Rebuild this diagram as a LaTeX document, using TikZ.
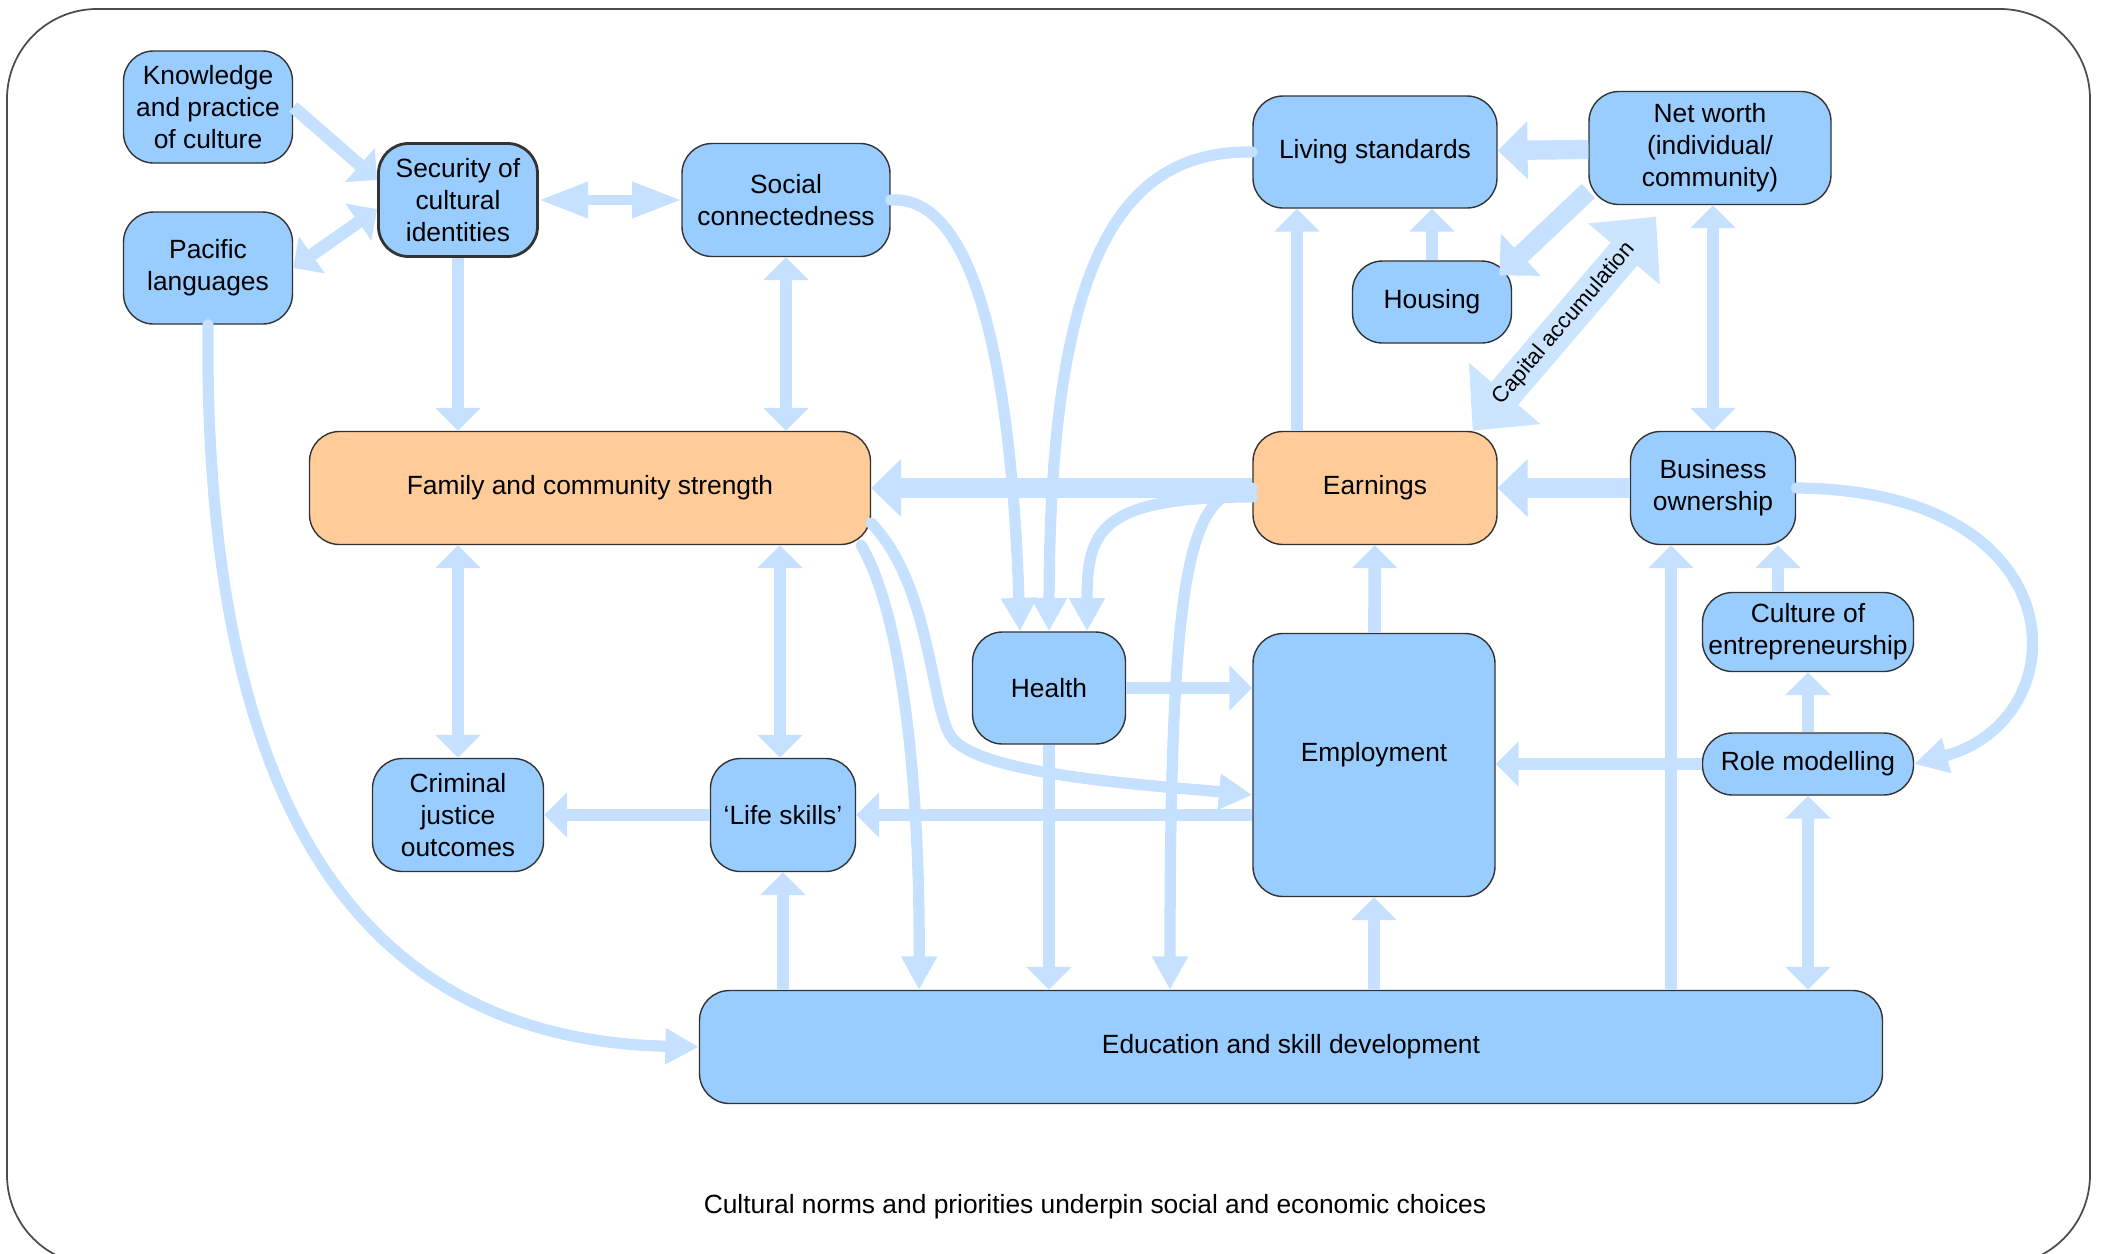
\documentclass[tikz,border=0pt]{standalone}
\usepackage{fontspec}
\setmainfont{Liberation Sans}
\usetikzlibrary{arrows.meta}

\definecolor{boxblue}{RGB}{153,204,255}
\definecolor{boxorange}{RGB}{255,204,153}
\definecolor{linkblue}{RGB}{198,225,255}
\definecolor{capblue}{RGB}{204,229,255}

\newcommand\boxfont{\fontsize{7.5}{9.1}\selectfont}
\newcommand\capfont{\fontsize{6.3}{7.5}\selectfont}

\tikzset{
  hd/.tip={Triangle[width=12.5pt,length=6.5pt]},
  nd/.tip={Triangle[width=9.7pt,length=9.5pt]},
  lg/.tip={Triangle[width=9.7pt,length=14pt]},
  bg/.tip={Triangle[width=16pt,length=8.5pt]},
  ct/.tip={Triangle[width=26pt,length=14pt]},
  box/.style={draw=black!80, line width=0.4pt, rounded corners=3mm, fill=boxblue,
    align=center, inner sep=1pt, font=\boxfont},
  orbox/.style={box, fill=boxorange},
  conn/.style={draw=linkblue, line width=3.6pt, -hd},
  curvy/.style={draw=linkblue, line width=3.2pt, line cap=round, -nd},
  biglink/.style={draw=linkblue, line width=5.5pt, -bg},
  capital/.style={draw=capblue, line width=10pt, ct-ct}
}

\begin{document}
\begin{tikzpicture}[x=0.1mm, y=-0.1mm]
\useasboundingbox (0,0) rectangle (2101,1254);
\draw[line width=0.5pt, draw=black!70, rounded corners=9mm] (7,9) rectangle (2090,1265);

% boxes
\node[box, minimum width=16.9mm, minimum height=11.2mm] (know) at (208,107) {Knowledge\\and practice\\of culture};
\node[box, minimum width=16.9mm, minimum height=11.2mm] (paclang) at (208,268) {Pacific\\languages};
\node[box, line width=0.8pt, minimum width=15.9mm, minimum height=11.3mm] (secid) at (458,200) {Security of\\cultural\\identities};
\node[box, minimum width=20.8mm, minimum height=11.3mm] (socconn) at (786,200) {Social\\connectedness};
\node[orbox, minimum width=56.1mm, minimum height=11.3mm] (family) at (590,488) {Family and community strength};
\node[box, minimum width=24.4mm, minimum height=11.2mm] (living) at (1375,152) {Living standards};
\node[box, minimum width=24.2mm, minimum height=11.3mm] (networth) at (1710,148) {Net worth\\(individual/\\community)};
\node[box, minimum width=15.9mm, minimum height=8.2mm] (housing) at (1432,302) {Housing};
\node[orbox, minimum width=24.4mm, minimum height=11.3mm] (earnings) at (1375,488) {Earnings};
\node[box, minimum width=16.5mm, minimum height=11.3mm] (business) at (1713,488) {Business\\ownership};
\node[box, minimum width=15.3mm, minimum height=11.2mm] (health) at (1049,688) {Health};
\node[box, minimum width=24.2mm, minimum height=26.3mm] (employ) at (1374,765) {\raisebox{2.6mm}{Employment}};
\node[box, minimum width=21.1mm, minimum height=7.9mm] (culture) at (1808,632) {Culture of\\entrepreneurship};
\node[box, minimum width=21.1mm, minimum height=6.2mm] (rolemod) at (1808,764) {Role modelling};
\node[box, minimum width=17.1mm, minimum height=11.3mm] (criminal) at (458,815) {Criminal\\justice\\outcomes};
\node[box, minimum width=14.5mm, minimum height=11.3mm] (lifeskills) at (783,815) {‘Life skills’};
\node[box, minimum width=118.3mm, minimum height=11.3mm] (edu) at (1291,1047) {Education and skill development};
\node[font=\boxfont] (caption) at (1095,1207) {Cultural norms and priorities underpin social and economic choices};

% cultural side
\draw[conn] (know.east) -- ([yshift=2mm]secid.west);
\draw[conn, hd-hd] (paclang.east) -- ([yshift=-0.9mm]secid.west);
\draw[draw=linkblue, line width=2.8pt, lg-lg] (secid) -- (socconn);
\draw[conn] (secid) -- (secid |- family.north);
\draw[conn, hd-hd] (socconn) -- (socconn |- family.north);
\draw[conn, hd-hd] (criminal |- family.south) -- (criminal);
\draw[conn, hd-hd] ([xshift=-0.3mm]lifeskills.north |- family.south) -- ([xshift=-0.3mm]lifeskills.north);
\draw[conn] (lifeskills) -- (criminal);
\draw[conn] (lifeskills |- edu.north) -- (lifeskills);
\draw[conn] (employ.west |- lifeskills) -- (lifeskills);
\draw[curvy] (paclang.south) .. controls (203,850) and (390,1040) .. (edu.west);

% into health
\draw[curvy] (socconn.east) .. controls (965,195) and (1010,330) .. ([xshift=-2.9mm]health.north);
\draw[curvy] (living.west) .. controls (1120,150) and (1050,260) .. (health.north);
\draw[curvy] ([yshift=-0.9mm]earnings.west) .. controls (1100,497) and (1087,530) .. ([xshift=3.8mm]health.north);

% earnings and family
\draw[biglink] (earnings) -- (family);
\draw[curvy] (earnings.west) .. controls (1190,490) and (1170,560) .. ([xshift=-12.1mm]edu.north);
\draw[curvy] ([yshift=-3.5mm]family.east) .. controls (930,585) and (930,700) .. (950,735)
  .. controls (973,775) and (1150,785) .. ([yshift=-3mm]employ.west);
\draw[curvy] ([xshift=-1mm]family.south east) .. controls (905,620) and (920,800) .. ([xshift=-37.2mm]edu.north);
\draw[conn] (health) -- (health |- edu.north);
\draw[conn] (health) -- (health -| employ.west);
\draw[conn] (employ) -- (earnings);
\draw[conn] (employ |- edu.north) -- (employ);

% wealth side
\draw[conn] ([xshift=-7.8mm]earnings.north) -- ([xshift=-7.8mm]living.south);
\draw[conn] (housing) -- (housing |- living.south);
\draw[biglink] (networth) -- (living);
\draw[biglink] ([yshift=-4.3mm]networth.west) -- ([xshift=-1.3mm,yshift=-1.5mm]housing.north east);
\draw[capital] ([xshift=-2.5mm]earnings.north east) -- node[sloped, font=\capfont] (caplbl) {Capital accumulation}
  ([xshift=-5.4mm,yshift=-1.15mm]networth.south);
\draw[conn, hd-hd] (business.north |- networth.south) -- (business.north);
\draw[biglink] (business) -- (earnings);
\draw[conn] ([xshift=-3mm]culture.north) -- ([xshift=-3mm]culture.north |- business.south);
\draw[conn] (rolemod) -- (culture);
\draw[conn] (rolemod) -- (rolemod -| employ.east);
\draw[conn, hd-hd] (rolemod) -- (rolemod |- edu.north);
\draw[curvy] (business.east) .. controls (2080,490) and (2080,720) .. (rolemod.east);
\draw[conn] ([xshift=-4.2mm]business.south |- edu.north) -- ([xshift=-4.2mm]business.south);
\end{tikzpicture}
\end{document}
